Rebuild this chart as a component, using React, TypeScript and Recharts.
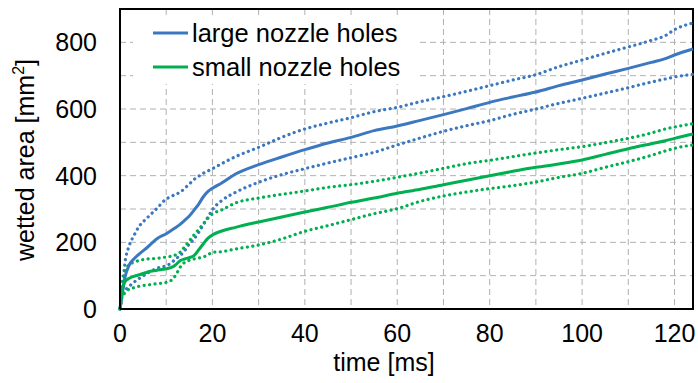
import {
  LineChart,
  Line,
  CartesianGrid,
  XAxis,
  YAxis,
  ReferenceArea,
} from "recharts";

const times = [
  0, 0.5, 1, 2, 3, 4, 6, 8, 10, 11, 12, 13, 14, 15, 16, 17, 18, 19, 20, 22, 25,
  30, 35, 40, 45, 50, 55, 60, 65, 70, 75, 80, 85, 90, 95, 100, 105, 110, 115,
  118, 120, 124,
];

const largeMean = [
  0, 45, 90, 132, 150, 163, 186, 211, 226, 235, 244, 254, 266, 279, 296, 314,
  336, 352, 362, 378, 405, 433, 456, 478, 498, 515, 535, 549, 566, 583, 601,
  620, 636, 651, 670, 687, 705, 722, 740, 751, 762, 780,
];

const largeUpper = [
  0, 48, 130, 190, 220, 245, 275, 302, 330, 337, 344, 350, 362, 375, 388, 398,
  407, 414, 421, 436, 457, 485, 515, 540, 558, 574, 592, 605, 622, 637, 653,
  670, 687, 703, 727, 747, 767, 786, 806, 820, 838, 858,
];

const largeLower = [
  0, 45, 55, 68, 80, 90, 108, 122, 130, 137, 150, 160, 175, 195, 210, 229, 252,
  275, 298, 325, 350, 380, 403, 421, 438, 454, 470, 492, 513, 533, 550, 565,
  584, 600, 617, 632, 648, 664, 681, 690, 696, 704,
];

const smallMean = [
  0, 55, 80, 92, 98, 102, 111, 116, 121, 124, 132, 145, 150, 154, 160, 177,
  195, 212, 222, 234, 245, 261, 276, 291, 305, 320, 333, 347, 359, 373, 386,
  400, 413, 425, 435, 447, 464, 481, 496, 505, 512, 525,
];

const smallUpper = [
  0, 80, 110, 133, 140, 145, 150, 152, 156, 158, 162, 170, 187, 204, 222, 238,
  255, 272, 285, 297, 318, 333, 344, 354, 365, 373, 383, 395, 408, 422, 436,
  446, 457, 468, 478, 487, 499, 512, 528, 540, 546, 556,
];

const smallLower = [
  0, 40, 47, 60, 64, 68, 72, 76, 80, 85, 100, 125, 140, 146, 150, 153, 156,
  162, 170, 172, 180, 192, 210, 233, 250, 268, 286, 301, 323, 339, 351, 361,
  370, 381, 395, 407, 425, 442, 461, 474, 482, 492,
];

const xTicks = [0, 10, 20, 30, 40, 50, 60, 70, 80, 90, 100, 110, 120];
const yTicks = [0, 100, 200, 300, 400, 500, 600, 700, 800];

const seriesNames = ["large nozzle holes", "small nozzle holes"];

const BLUE = "#3b78c0";
const GREEN = "#00b050";
const FONT = "'Liberation Sans', Arial, sans-serif";
const DOTS = "0.1 5.4";

const data = times.map((t, i) => ({
  t,
  largeMean: largeMean[i],
  largeUpper: largeUpper[i],
  largeLower: largeLower[i],
  smallMean: smallMean[i],
  smallUpper: smallUpper[i],
  smallLower: smallLower[i],
}));

// legend box with white fill, covers the grid behind it
function LegendBox() {
  const colors = [BLUE, GREEN];
  return (
    <div
      style={{
        position: "absolute",
        left: 133,
        top: 16,
        width: 284,
        height: 68,
        boxSizing: "border-box",
        paddingLeft: 20,
        background: "#fff",
        fontFamily: FONT,
        fontSize: 25.5,
        color: "#000",
        lineHeight: "34px",
      }}
    >
      {seriesNames.map((name, i) => (
        <div
          key={name}
          style={{ display: "flex", alignItems: "center", height: 34 }}
        >
          <svg width={39} height={6}>
            <line
              x1={0}
              y1={3}
              x2={35}
              y2={3}
              stroke={colors[i]}
              strokeWidth={3}
            />
          </svg>
          <span>{name}</span>
        </div>
      ))}
    </div>
  );
}

function YTitle() {
  return (
    <text
      x={0}
      y={0}
      transform="translate(34, 160) rotate(-90)"
      textAnchor="middle"
      fontFamily={FONT}
      fontSize={25}
      fill="#000"
    >
      wetted area [mm
      <tspan fontSize={16} dy={-10}>
        2
      </tspan>
      <tspan dy={10}>]</tspan>
    </text>
  );
}

function XTitle() {
  return (
    <text
      x={384}
      y={371}
      textAnchor="middle"
      fontFamily={FONT}
      fontSize={25}
      fill="#000"
    >
      time [ms]
    </text>
  );
}

export default function App() {
  const tickStyle = { fontFamily: FONT, fontSize: 25, fill: "#000" };

  return (
    <div
      style={{
        position: "absolute",
        left: 0,
        top: 0,
        width: 698,
        height: 383,
        background: "#fff",
      }}
    >
      <LineChart
        width={698}
        height={383}
        data={data}
        margin={{ top: 9, right: 5, bottom: 0, left: 0 }}
      >
        <CartesianGrid
          stroke="#b0b0b0"
          strokeDasharray="6 4"
          strokeWidth={1}
        />

        <XAxis
          dataKey="t"
          type="number"
          domain={[0, 124]}
          ticks={xTicks}
          tickFormatter={(v) => (v % 20 === 0 ? String(v) : "")}
          tick={tickStyle}
          tickLine={false}
          tickSize={0}
          tickMargin={15}
          axisLine={{ stroke: "#000", strokeWidth: 2 }}
          height={74}
          label={<XTitle />}
        />

        <YAxis
          type="number"
          domain={[0, 900]}
          ticks={yTicks}
          tickFormatter={(v) => (v % 200 === 0 ? String(v) : "")}
          tick={tickStyle}
          tickLine={false}
          tickSize={0}
          tickMargin={23}
          axisLine={{ stroke: "#000", strokeWidth: 2 }}
          width={120}
          label={<YTitle />}
        />

        <ReferenceArea
          x1={0}
          x2={124}
          y1={0}
          y2={900}
          fill="none"
          fillOpacity={0}
          stroke="#000"
          strokeWidth={2}
        />

        <Line
          dataKey="largeUpper"
          type="monotone"
          stroke={BLUE}
          strokeWidth={3.2}
          strokeDasharray={DOTS}
          strokeLinecap="round"
          dot={false}
          isAnimationActive={false}
        />
        <Line
          dataKey="largeLower"
          type="monotone"
          stroke={BLUE}
          strokeWidth={3.2}
          strokeDasharray={DOTS}
          strokeLinecap="round"
          dot={false}
          isAnimationActive={false}
        />
        <Line
          dataKey="smallUpper"
          type="monotone"
          stroke={GREEN}
          strokeWidth={3.2}
          strokeDasharray={DOTS}
          strokeLinecap="round"
          dot={false}
          isAnimationActive={false}
        />
        <Line
          dataKey="smallLower"
          type="monotone"
          stroke={GREEN}
          strokeWidth={3.2}
          strokeDasharray={DOTS}
          strokeLinecap="round"
          dot={false}
          isAnimationActive={false}
        />
        <Line
          dataKey="largeMean"
          type="monotone"
          stroke={BLUE}
          strokeWidth={3}
          dot={false}
          isAnimationActive={false}
        />
        <Line
          dataKey="smallMean"
          type="monotone"
          stroke={GREEN}
          strokeWidth={3}
          dot={false}
          isAnimationActive={false}
        />
      </LineChart>
      <LegendBox />
    </div>
  );
}
